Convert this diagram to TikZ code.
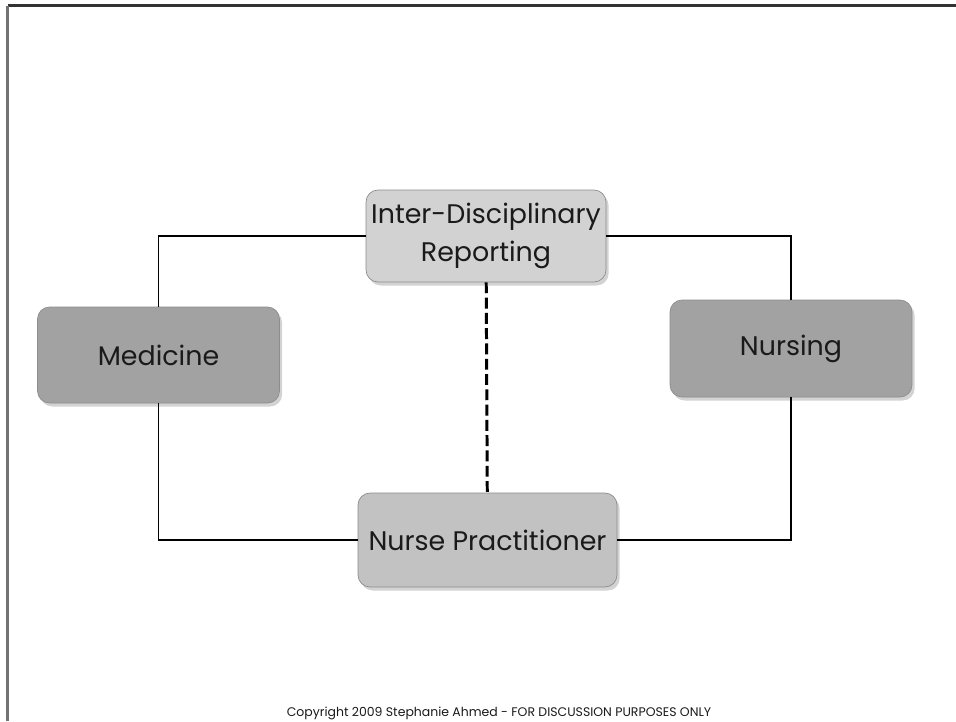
\documentclass[tikz,border=0pt]{standalone}
\usepackage{fontspec}
\setmainfont{Poppins}
\usepackage{tikz}
\usetikzlibrary{shadows,positioning}
\usepackage{xcolor}

\definecolor{darkbox}{HTML}{A2A2A2}
\definecolor{midbox}{HTML}{C2C2C2}
\definecolor{lightbox}{HTML}{D2D2D2}
\definecolor{boxedge}{HTML}{8C8C8C}
\definecolor{boxtext}{HTML}{1A1A1A}

\begin{document}
\begin{tikzpicture}[
            x = 0.02cm, y = -0.02cm, % one unit = one pixel
            line width = 1.1pt, % line style
            every node/.style={font=\fontsize{15.3}{21.5}\selectfont, text=boxtext}
        ]

        \tikzstyle{box}=[
            draw = boxedge,
            line width = 0.4pt,
            rounded corners = 0.24cm,
            align = center,
            inner sep = 0pt,
            drop shadow = {shadow xshift=1.5pt, shadow yshift=-2pt, opacity=0.35}
        ]
        \tikzstyle{link}=[draw = black, line width = 1.1pt]
        \tikzstyle{dotted link}=[link, line width = 1.7pt, dash pattern = on 6.2pt off 2.5pt]

        \useasboundingbox (0,0) rectangle (956,721);

        % frame
        \draw[color = black!80, line width = 1.2pt] (7.5,5.5) -- (956,5.5);
        \draw[color = black!55, line width = 1.4pt] (7.5,5.5) -- (7.5,721);

        % boxes
        \node[box, fill = lightbox, minimum width = 4.8cm, minimum height = 1.84cm] (idr) at (486,236) {Inter-Disciplinary\\Reporting};
        \node[box, fill = darkbox, minimum width = 4.84cm, minimum height = 1.92cm] (med) at (158.5,355) {Medicine};
        \node[box, fill = darkbox, minimum width = 4.84cm, minimum height = 1.94cm] (nurs) at (791,348.5) {Nursing};
        \node[box, fill = midbox, minimum width = 5.18cm, minimum height = 1.88cm] (np) at (487.5,540) {Nurse Practitioner};

        % connectors
        \path[link]	(idr) -| (med);
        \path[link]	(med) |- (np);
        \path[link]	(idr) -| (nurs);
        \path[link]	(nurs) |- (np);
        \path[dotted link]	(idr) -- (np);

        \node (copy) at (499,713) {\fontsize{7.1}{8}\selectfont Copyright 2009 Stephanie Ahmed - FOR DISCUSSION PURPOSES ONLY};

\end{tikzpicture}
\end{document}
